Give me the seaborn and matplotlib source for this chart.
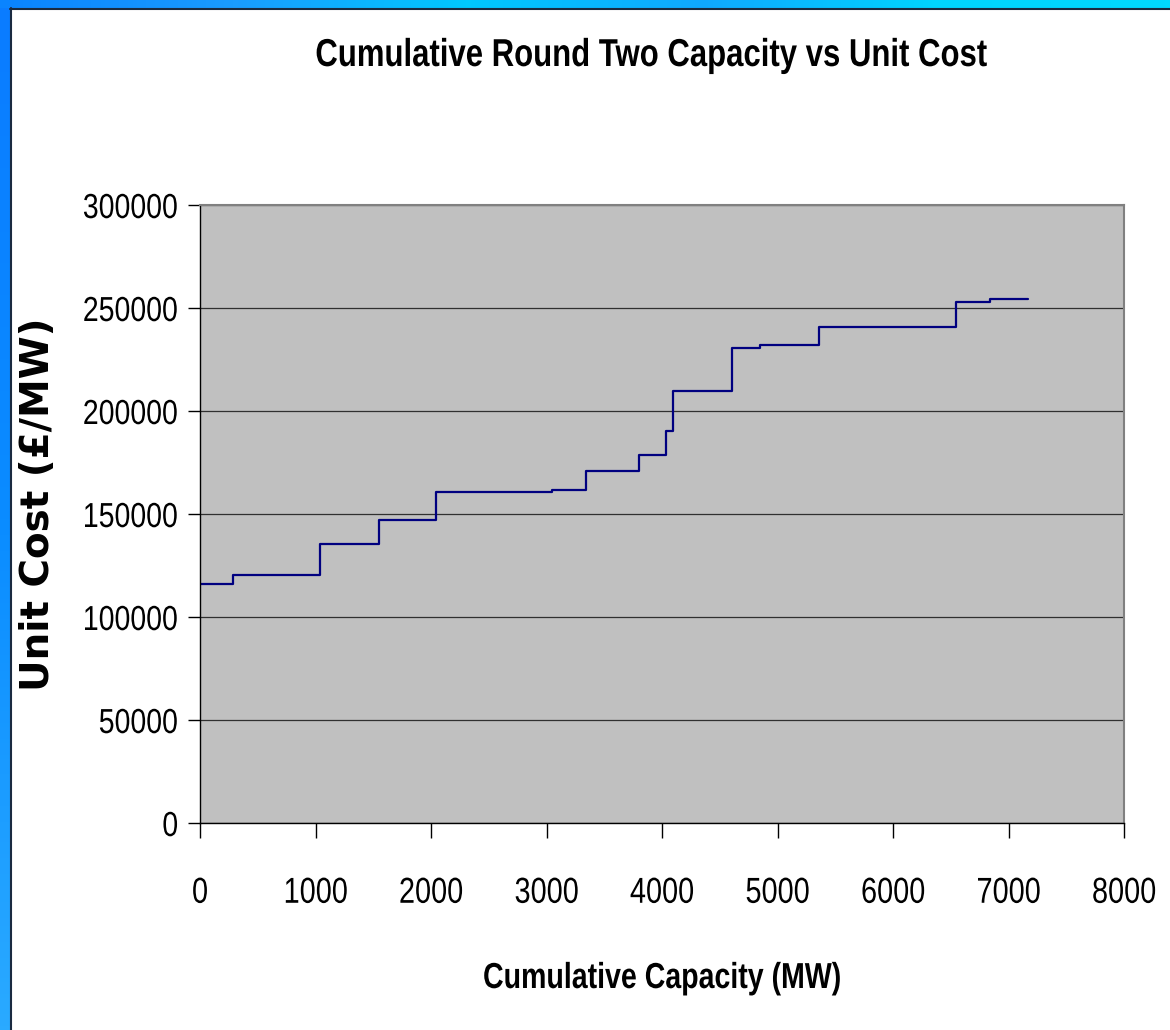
import numpy as np
import pandas as pd
import seaborn as sns
import matplotlib
matplotlib.use("Agg")
import matplotlib.pyplot as plt
from matplotlib.colors import LinearSegmentedColormap
from matplotlib.patheffects import AbstractPathEffect
from matplotlib.transforms import Affine2D

# Cumulative capacity (MW) at which each cost step begins, and the unit cost (GBP/MW)
capacity_mw = [0, 286, 1039, 1547, 2043, 3048, 3345, 3801, 4032, 4098,
               4603, 4851, 5356, 6545, 6840, 7169]
unit_cost = [116000, 120400, 135300, 147100, 160500, 161800, 171000, 178500,
             190300, 209500, 230400, 231900, 240900, 252700, 254400, 254400]

x_ticks = [0, 1000, 2000, 3000, 4000, 5000, 6000, 7000, 8000]
y_ticks = [0, 50000, 100000, 150000, 200000, 250000, 300000]

title_text = "Cumulative Round Two Capacity vs Unit Cost"
x_label = "Cumulative Capacity (MW)"
y_label = "Unit Cost (£/MW)"

df = pd.DataFrame({"capacity": capacity_mw, "cost": unit_cost})


class Squeeze(AbstractPathEffect):
    """Draw text glyphs compressed horizontally about an anchor edge."""

    def __init__(self, sx, anchor="center"):
        super().__init__()
        self.sx = sx
        self.anchor = anchor

    def draw_path(self, renderer, gc, tpath, affine, rgbFace=None):
        ext = tpath.get_extents(affine)
        if self.anchor == "right":
            x0 = ext.x1
        elif self.anchor == "left":
            x0 = ext.x0
        else:
            x0 = 0.5 * (ext.x0 + ext.x1)
        t = affine + Affine2D().translate(-x0, 0).scale(self.sx, 1).translate(x0, 0)
        renderer.draw_path(gc, tpath, t, rgbFace)


sns.set_theme(style="white")
plt.rcParams["font.family"] = ["Liberation Sans", "DejaVu Sans"]
for key in ("text.color", "axes.labelcolor", "xtick.color", "ytick.color"):
    plt.rcParams[key] = "black"

W, H = 1170, 1030
fig = plt.figure(figsize=(W / 100, H / 100), dpi=100)
fig.patch.set_facecolor("white")

# blue slide frame: top band and left band
grad = LinearSegmentedColormap.from_list(
    "frame", ["#0a84ff", "#1a9cff", "#00c8ff", "#10a8ff", "#00d4ff", "#00d8ff"])
top = fig.add_axes([0, 1 - 8 / H, 1, 8 / H])
top.imshow(np.linspace(0, 1, 256)[None, :], aspect="auto", cmap=grad)
top.set_axis_off()
left = fig.add_axes([0, 0, 10 / W, 1 - 8 / H])
lgrad = LinearSegmentedColormap.from_list("frame_l", ["#0a7cff", "#0a8cff", "#2aaaff"])
left.imshow(np.linspace(0, 1, 256)[:, None], aspect="auto", cmap=lgrad)
left.set_axis_off()
fig.add_artist(plt.Line2D([10 / W, 1], [1 - 9 / H] * 2, color="#1a2a40", lw=1.5))
fig.add_artist(plt.Line2D([11 / W] * 2, [0, 1 - 8 / H], color="#1a2a40", lw=1.5))

# plot area: x from 200 px to 1124 px, y from 205 px to 823 px (from top)
ax = fig.add_axes([200 / W, 207 / H, 924 / W, 618 / H])
ax.set_facecolor("#c0c0c0")

sns.lineplot(data=df, x="capacity", y="cost", drawstyle="steps-post",
             color="#000080", linewidth=1.6, ax=ax)

ax.set_xlim(0, 8000)
ax.set_ylim(0, 300000)
ax.set_xticks(x_ticks)
ax.set_yticks(y_ticks)
ax.set_xticklabels([str(v) for v in x_ticks])
ax.set_yticklabels([str(v) for v in y_ticks])
ax.yaxis.grid(True, color="#303030", linewidth=0.9)
ax.xaxis.grid(False)
ax.set_axisbelow(True)

for side in ("left", "bottom"):
    ax.spines[side].set_color("black")
    ax.spines[side].set_linewidth(1.0)
for side in ("top", "right"):
    ax.spines[side].set_color("#808080")
    ax.spines[side].set_linewidth(1.5)

ax.tick_params(axis="x", direction="out", length=11, width=1, color="black",
               pad=27, labelsize=26, bottom=True)
ax.tick_params(axis="y", direction="out", length=8.5, width=1, color="black",
               pad=7, labelsize=25, left=True)

for lab in ax.get_xticklabels():
    lab.set_path_effects([Squeeze(0.80, "center")])
for lab in ax.get_yticklabels():
    lab.set_path_effects([Squeeze(0.82, "right")])

ax.set_xlabel(x_label, fontsize=26, fontweight="bold")
ax.xaxis.label.set_va("baseline")
ax.xaxis.set_label_coords(0.5, (H - 988 - 207) / 618)
ax.xaxis.label.set_path_effects([Squeeze(0.79, "center")])

ax.set_ylabel(y_label, fontsize=28, fontweight="bold", family=["DejaVu Sans"])
ax.yaxis.label.set_va("center")
ax.yaxis.label.set_ha("center")
ax.yaxis.set_label_coords((38 - 200) / 924, (H - 504 - 207) / 618)

title = fig.text(651 / W, 1 - 66 / H, title_text, fontsize=28, fontweight="bold",
                 ha="center", va="baseline")
title.set_path_effects([Squeeze(0.80, "center")])

fig.savefig("out.png", dpi=100, facecolor="white")
